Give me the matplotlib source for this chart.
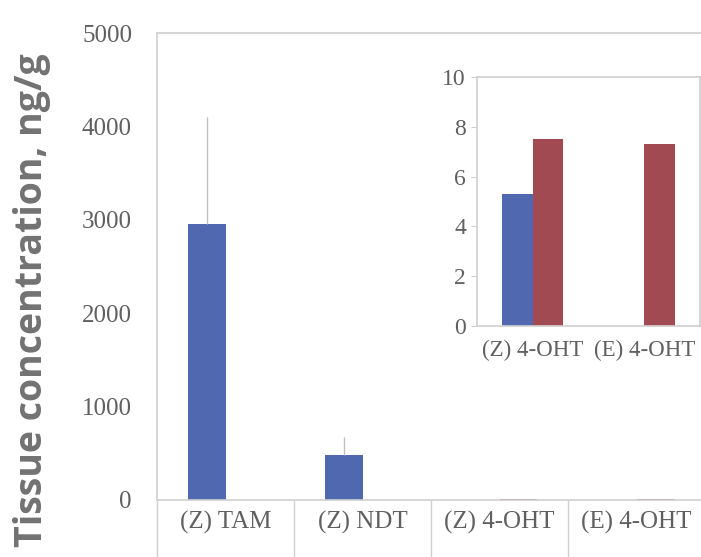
import numpy as np
import matplotlib.pyplot as plt

plt.rcParams["font.family"] = ["Liberation Serif", "DejaVu Serif"]

# 组织中药物浓度 (ng/g)
categories = ["(Z) TAM", "(Z) NDT", "(Z) 4-OHT", "(E) 4-OHT"]
blue_vals = [2950, 480, 5.3, 0]
blue_err = [1150, 190, 0, 0]
red_vals = [0, 0, 7.5, 7.3]

# 放大图: 4-OHT
inset_categories = ["(Z) 4-OHT", "(E) 4-OHT"]
inset_blue = [5.3, 0]
inset_red = [7.5, 7.3]

blue = "#5068B0"
red = "#A24A52"
grid_c = "#d0d0d0"
text_c = "#606060"
bar_w = 0.275
off = 0.1375

fig = plt.figure(figsize=(7.01, 5.57), dpi=100)

# 主图
ax = fig.add_axes([157 / 701, 57 / 557, 548 / 701, 467 / 557])
x = np.arange(len(categories))
ax.bar(x - off, blue_vals, bar_w, color=blue, zorder=2)
ax.bar(x + off, red_vals, bar_w, color=red, zorder=2)
ax.errorbar(x - off, blue_vals, yerr=[np.zeros(len(x)), blue_err], fmt="none",
            ecolor="#c0c0c0", elinewidth=1, capsize=0, zorder=3)
ax.set_xlim(-0.5, len(categories) - 0.5)
ax.set_ylim(0, 5000)
ax.set_yticks([0, 1000, 2000, 3000, 4000, 5000])
ax.tick_params(axis="y", length=0, pad=18, labelsize=18, labelcolor=text_c)
ax.set_xticks(x)
ax.set_xticklabels(categories)
ax.tick_params(axis="x", which="major", length=0, pad=8, labelsize=18, labelcolor=text_c)
ax.set_xticks(np.arange(len(categories) + 1) - 0.5, minor=True)
ax.tick_params(axis="x", which="minor", length=42, color=grid_c, width=1)
for s in ax.spines.values():
    s.set_color(grid_c)
    s.set_linewidth(1.2)

# 放大图
ins = fig.add_axes([477 / 701, 231 / 557, 223 / 701, 249 / 557])
xi = np.arange(len(inset_categories))
ins.bar(xi - off, inset_blue, bar_w, color=blue, zorder=2)
ins.bar(xi + off, inset_red, bar_w, color=red, zorder=2)
ins.set_xlim(-0.5, len(inset_categories) - 0.5)
ins.set_ylim(0, 10)
ins.set_yticks([0, 2, 4, 6, 8, 10])
ins.tick_params(axis="y", length=4, color=grid_c, pad=4, labelsize=17, labelcolor=text_c)
ins.set_xticks(xi)
ins.set_xticklabels(inset_categories)
ins.tick_params(axis="x", length=0, pad=10, labelsize=16.5, labelcolor=text_c)
for s in ins.spines.values():
    s.set_color(grid_c)
    s.set_linewidth(1.2)

fig.text(32 / 701, (557 - 300) / 557, "Tissue concentration, ng/g", rotation=90,
         ha="center", va="center", fontsize=27, fontweight="bold", color="#727272",
         family=["Open Sans", "DejaVu Sans"])

fig.savefig("out.png", dpi=100)
